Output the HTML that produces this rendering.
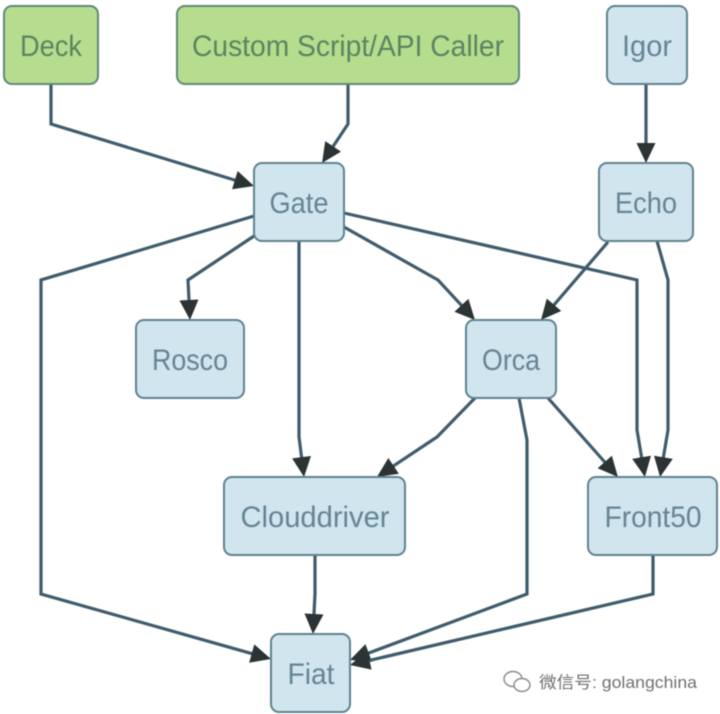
<!DOCTYPE html>
<html><head><meta charset="utf-8"><style>
html,body{margin:0;padding:0;background:#fff;width:720px;height:714px;overflow:hidden}
svg{display:block;filter:blur(.45px)}
text{font-family:"Liberation Sans","Noto Sans CJK SC",sans-serif;font-size:30px;text-anchor:middle}
.g rect{fill:#b6dc8e;stroke:#5f8a78;stroke-width:2}
.g text{fill:#5a8560}
.b rect{fill:#d0e5ee;stroke:#5f8290;stroke-width:2}
.b text{fill:#668494}
.e path{fill:none;stroke:#3f5b6c;stroke-width:3.2;stroke-linejoin:miter;marker-end:url(#ah)}
</style></head><body>
<svg width="720" height="714" viewBox="0 0 720 714" xmlns="http://www.w3.org/2000/svg">
<defs>
<marker id="ah" markerUnits="userSpaceOnUse" markerWidth="22" markerHeight="20" refX="6" refY="9.5" orient="auto" overflow="visible">
<path d="M0 0L20 9.5L0 19Z" fill="#2b3335"/>
</marker>
</defs>
<g class="e">
<path d="M51 84V124L240.6 181.9"/>
<path d="M348 84V124L329.8 151.4"/>
<path d="M646 84V149"/>
<path d="M608 242L550.1 309.4"/>
<path d="M657 241L668 280V430L662.4 463.2"/>
<path d="M344 213L637 280V430L642.6 463.2"/>
<path d="M548 398L608.7 466.5"/>
<path d="M519 398L527 440V594L363.1 655.1"/>
<path d="M653 555V594L363.6 661.8"/>
<path d="M315 555V594L313.7 620"/>
<path d="M254 216L41 280V594L257.5 655.2"/>
<path d="M254 236L188 280L189.3 306"/>
<path d="M299 241V437L302.3 463.1"/>
<path d="M344 227L438 280L465.5 309.7"/>
<path d="M475 398L437 437L388.6 469.2"/>
</g>
<g class="g">
<rect x="4" y="6" width="94" height="78" rx="8"/>
<text x="51" y="56" textLength="62" lengthAdjust="spacingAndGlyphs">Deck</text>
<rect x="177" y="6" width="342" height="78" rx="8"/>
<text x="348" y="56" textLength="312" lengthAdjust="spacingAndGlyphs">Custom Script/API Caller</text>
</g>
<g class="b">
<rect x="607" y="6" width="80" height="78" rx="8"/>
<text x="647" y="56" textLength="50" lengthAdjust="spacingAndGlyphs">Igor</text>
<rect x="254" y="163" width="90" height="78" rx="8"/>
<text x="299" y="213" textLength="59" lengthAdjust="spacingAndGlyphs">Gate</text>
<rect x="599" y="163" width="94" height="78" rx="8"/>
<text x="646" y="213" textLength="62" lengthAdjust="spacingAndGlyphs">Echo</text>
<rect x="136" y="320" width="108" height="78" rx="8"/>
<text x="190" y="370" textLength="76" lengthAdjust="spacingAndGlyphs">Rosco</text>
<rect x="466" y="320" width="90" height="78" rx="8"/>
<text x="511" y="370" textLength="58" lengthAdjust="spacingAndGlyphs">Orca</text>
<rect x="224" y="477" width="181" height="78" rx="8"/>
<text x="315" y="527" textLength="149" lengthAdjust="spacingAndGlyphs">Clouddriver</text>
<rect x="588" y="477" width="129" height="78" rx="8"/>
<text x="653" y="527" textLength="97" lengthAdjust="spacingAndGlyphs">Front50</text>
<rect x="271" y="634" width="79" height="78" rx="8"/>
<text x="311" y="684" textLength="47" lengthAdjust="spacingAndGlyphs">Fiat</text>
</g>
<g fill="#fff" stroke="#85898a" stroke-width="1.4">
<ellipse cx="513" cy="679" rx="9" ry="7.5"/>
<ellipse cx="522" cy="685" rx="8" ry="6.5"/>
</g>
<text x="618" y="688" style="font-size:16.5px;fill:#6f7272" textLength="158" lengthAdjust="spacingAndGlyphs">微信号: golangchina</text>
</svg>
</body></html>
